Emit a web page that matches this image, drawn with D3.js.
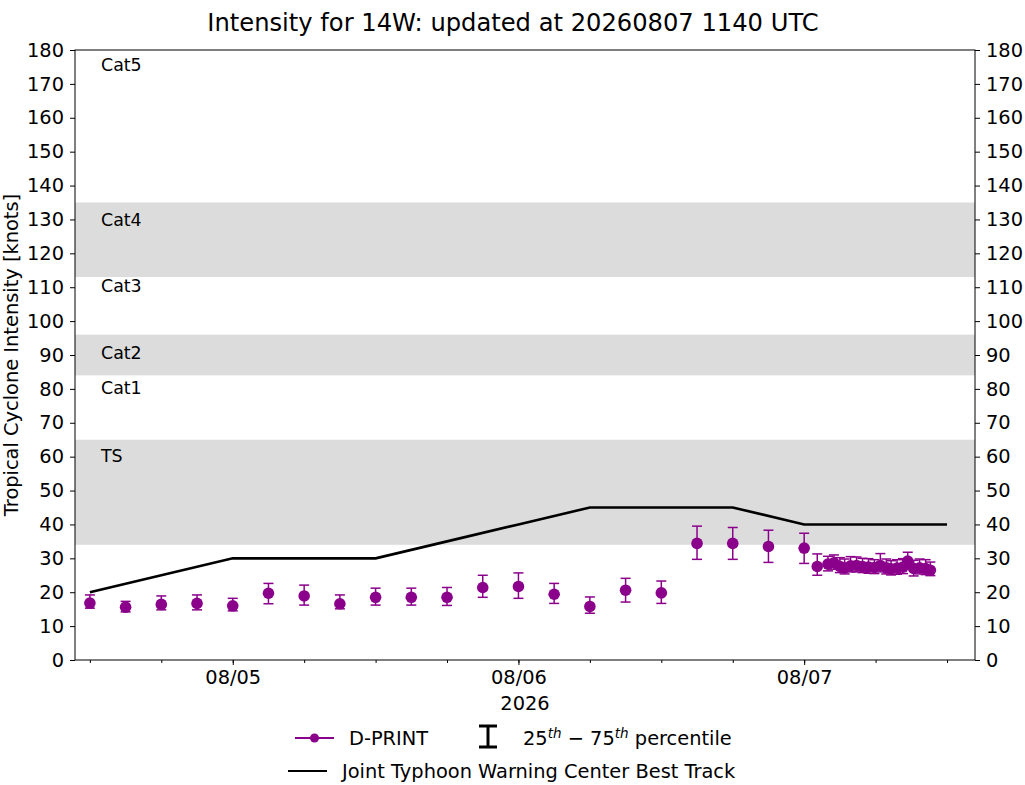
<!DOCTYPE html>
<html><head><meta charset="utf-8">
<script src="https://cdn.jsdelivr.net/npm/d3@7/dist/d3.min.js"></script>
<style>
html,body{margin:0;padding:0;background:#fff;}
svg text{font-family:"DejaVu Sans",sans-serif;}
</style></head>
<body>
<svg id="chart" width="1025" height="785"></svg>
<script>
// ---------- DATA ----------
const titleText = "Intensity for 14W: updated at 20260807 1140 UTC";
const yLabelText = "Tropical Cyclone Intensity [knots]";
const yearLabel = "2026";
const yTicks = d3.range(0, 181, 10);
const xDomain = ["2026-08-04T10:45Z", "2026-08-07T14:21Z"];
const xMajorTicks = ["2026-08-05T00:00Z", "2026-08-06T00:00Z", "2026-08-07T00:00Z"];
const xMajorLabels = ["08/05", "08/06", "08/07"];

const bands = [[34, 65], [84, 96], [113, 135]];
const catNames = ["Cat5", "Cat4", "Cat3", "Cat2", "Cat1", "TS"];
const catLabelY = [175.5, 130, 110.5, 90.5, 80.3, 60.3];

const dprintTimes = [
  "2026-08-04T12:00Z","2026-08-04T15:00Z","2026-08-04T18:00Z","2026-08-04T21:00Z",
  "2026-08-05T00:00Z","2026-08-05T03:00Z","2026-08-05T06:00Z","2026-08-05T09:00Z",
  "2026-08-05T12:00Z","2026-08-05T15:00Z","2026-08-05T18:00Z","2026-08-05T21:00Z",
  "2026-08-06T00:00Z","2026-08-06T03:00Z","2026-08-06T06:00Z","2026-08-06T09:00Z",
  "2026-08-06T12:00Z","2026-08-06T15:00Z","2026-08-06T18:00Z","2026-08-06T21:00Z",
  "2026-08-07T00:00Z",
  "2026-08-07T01:06Z","2026-08-07T02:00Z","2026-08-07T02:30Z","2026-08-07T03:00Z",
  "2026-08-07T03:24Z","2026-08-07T03:54Z","2026-08-07T04:24Z","2026-08-07T04:54Z",
  "2026-08-07T05:24Z","2026-08-07T05:54Z","2026-08-07T06:24Z","2026-08-07T06:54Z",
  "2026-08-07T07:18Z","2026-08-07T07:48Z","2026-08-07T08:18Z","2026-08-07T08:42Z",
  "2026-08-07T09:12Z","2026-08-07T09:42Z","2026-08-07T10:12Z","2026-08-07T10:36Z"
];
const dprintVals = [
  16.8,15.6,16.4,16.7,16.0,19.7,18.9,16.6,18.5,18.5,18.5,21.4,21.7,19.4,15.8,20.6,19.8,34.4,34.4,33.5,33.0,
  27.6,28.3,28.7,27.6,27.2,27.8,27.9,27.6,27.4,27.3,27.9,27.2,26.9,27.1,27.4,29.2,27.0,27.2,27.0,26.5
];
const dprintP25 = [
  15.3,14.2,14.8,14.8,14.5,16.6,16.2,15.1,16.2,16.2,16.1,18.5,18.2,16.7,13.8,17.1,16.7,29.7,29.7,28.8,28.5,
  25.0,26.3,26.8,25.8,25.4,26.0,26.0,25.8,25.6,25.5,26.0,25.4,25.1,25.3,25.5,27.0,24.8,25.4,25.2,24.9
];
const dprintP75 = [
  19.2,17.3,18.9,19.2,18.2,22.6,22.1,19.2,21.2,21.2,21.4,25.0,25.7,22.6,18.6,24.1,23.3,39.5,39.1,38.3,37.4,
  31.3,30.6,31.0,30.2,29.8,30.5,30.4,30.0,29.9,29.6,31.4,29.8,29.3,29.6,29.9,31.8,29.4,29.8,29.6,28.9
];

const bestTimes = [
  "2026-08-04T12:00Z","2026-08-04T18:00Z","2026-08-05T00:00Z","2026-08-05T06:00Z",
  "2026-08-05T12:00Z","2026-08-05T18:00Z","2026-08-06T00:00Z","2026-08-06T06:00Z",
  "2026-08-06T12:00Z","2026-08-06T18:00Z","2026-08-07T00:00Z","2026-08-07T06:00Z",
  "2026-08-07T12:00Z"
];
const bestVals = [20,25,30,30,30,35,40,45,45,45,40,40,40];

// ---------- CHART ----------
const svg = d3.select("#chart");
const L = 75, R = 975, T = 50, B = 660;
const purple = "#8b008b";
const FS = 19.4;
const parse = s => new Date(s);

const x = d3.scaleUtc().domain(xDomain.map(parse)).range([L, R]);
const y = d3.scaleLinear().domain([0, 180]).range([B, T]);

// bands
svg.append("g").selectAll("rect").data(bands).join("rect")
  .attr("x", L).attr("width", R - L)
  .attr("y", d => y(d[1])).attr("height", d => y(d[0]) - y(d[1]))
  .attr("fill", "#dcdcdc");

// category labels
svg.append("g").selectAll("text").data(catNames).join("text")
  .attr("x", 101).attr("y", (d, i) => y(catLabelY[i]))
  .attr("dy", "0.35em").attr("font-size", 17.4).attr("fill", "#000")
  .text(d => d);

// axes
const yAxisL = d3.axisLeft(y).tickValues(yTicks).tickSize(5).tickPadding(6);
const yAxisR = d3.axisRight(y).tickValues(yTicks).tickSize(5).tickPadding(6);
const gl = svg.append("g").attr("transform", `translate(${L},0)`).call(yAxisL);
const gr = svg.append("g").attr("transform", `translate(${R},0)`).call(yAxisR);
[gl, gr].forEach(g => {
  g.selectAll("text").attr("font-size", FS).attr("fill", "#000").style("font-family", "DejaVu Sans");
  g.select(".domain").remove();
});

const minorTicks = d3.utcHour.every(6).range(parse(xDomain[0]), parse(xDomain[1]));
const xAxisMinor = d3.axisBottom(x).tickValues(minorTicks).tickSize(3).tickFormat("");
svg.append("g").attr("transform", `translate(0,${B})`).call(xAxisMinor)
  .select(".domain").remove();
const xAxis = d3.axisBottom(x).tickValues(xMajorTicks.map(parse)).tickSize(5).tickPadding(5)
  .tickFormat((d, i) => xMajorLabels[i]);
const gx = svg.append("g").attr("transform", `translate(0,${B})`).call(xAxis);
gx.select(".domain").remove();
gx.selectAll("text").attr("font-size", FS).attr("fill", "#000").style("font-family", "DejaVu Sans");

// frame
svg.append("rect").attr("x", L).attr("y", T).attr("width", R - L).attr("height", B - T)
  .attr("fill", "none").attr("stroke", "#000").attr("stroke-width", 1);

// best track
const bt = bestTimes.map((t, i) => ({t: parse(t), v: bestVals[i]}));
svg.append("path").datum(bt)
  .attr("d", d3.line().x(d => x(d.t)).y(d => y(d.v)))
  .attr("fill", "none").attr("stroke", "#000").attr("stroke-width", 2.6);

// dprint
const dp = dprintTimes.map((t, i) => ({t: parse(t), v: dprintVals[i], lo: dprintP25[i], hi: dprintP75[i]}));
const eg = svg.append("g").attr("stroke", purple).attr("stroke-width", 1.5);
dp.forEach(d => {
  const cx = x(d.t);
  eg.append("line").attr("x1", cx).attr("x2", cx).attr("y1", y(d.lo)).attr("y2", y(d.hi));
  eg.append("line").attr("x1", cx - 5).attr("x2", cx + 5).attr("y1", y(d.lo)).attr("y2", y(d.lo));
  eg.append("line").attr("x1", cx - 5).attr("x2", cx + 5).attr("y1", y(d.hi)).attr("y2", y(d.hi));
});
svg.append("g").selectAll("circle").data(dp).join("circle")
  .attr("cx", d => x(d.t)).attr("cy", d => y(d.v)).attr("r", 5.8).attr("fill", purple);

// title & labels
svg.append("text").attr("x", 513).attr("y", 31).attr("text-anchor", "middle")
  .attr("font-size", 24.2).attr("fill", "#000").text(titleText);
svg.append("text").attr("transform", `translate(18,${(T + B) / 2 + 0}) rotate(-90)`)
  .attr("text-anchor", "middle").attr("font-size", FS).attr("fill", "#000").text(yLabelText);
svg.append("text").attr("x", 525).attr("y", 710).attr("text-anchor", "middle")
  .attr("font-size", FS).attr("fill", "#000").text(yearLabel);

// legend
const lg = svg.append("g");
lg.append("line").attr("x1", 295).attr("x2", 334).attr("y1", 738).attr("y2", 738)
  .attr("stroke", purple).attr("stroke-width", 1.8);
lg.append("circle").attr("cx", 314.5).attr("cy", 738).attr("r", 4.5).attr("fill", purple);
lg.append("text").attr("x", 349).attr("y", 745).attr("font-size", FS).attr("fill", "#000").text("D-PRINT");
lg.append("line").attr("x1", 488).attr("x2", 488).attr("y1", 726).attr("y2", 748).attr("stroke", "#000").attr("stroke-width", 3);
lg.append("line").attr("x1", 479).attr("x2", 497).attr("y1", 726).attr("y2", 726).attr("stroke", "#000").attr("stroke-width", 3);
lg.append("line").attr("x1", 479).attr("x2", 497).attr("y1", 747).attr("y2", 747).attr("stroke", "#000").attr("stroke-width", 3);
const pt = lg.append("text").attr("x", 523).attr("y", 745).attr("font-size", FS).attr("fill", "#000");
pt.append("tspan").text("25");
pt.append("tspan").attr("dy", -7).attr("font-size", 13.5).attr("font-style", "italic").text("th");
pt.append("tspan").attr("dy", 7).text(" \u2212 75");
pt.append("tspan").attr("dy", -7).attr("font-size", 13.5).attr("font-style", "italic").text("th");
pt.append("tspan").attr("dy", 7).text(" percentile");
lg.append("line").attr("x1", 288).attr("x2", 327).attr("y1", 771).attr("y2", 771)
  .attr("stroke", "#000").attr("stroke-width", 2.2);
lg.append("text").attr("x", 342).attr("y", 778).attr("font-size", FS).attr("fill", "#000")
  .text("Joint Typhoon Warning Center Best Track");
</script>
</body></html>
